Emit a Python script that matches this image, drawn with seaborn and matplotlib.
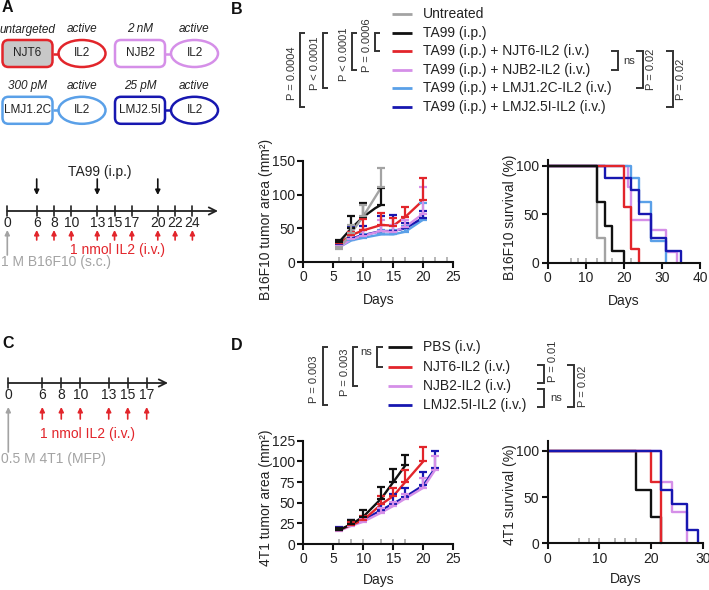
import numpy as np
import pandas as pd
import matplotlib
matplotlib.use("Agg")
import matplotlib.pyplot as plt
import seaborn as sns
from matplotlib.patches import FancyBboxPatch, Ellipse

# ---------------- data ----------------
# Panel A constructs
construct_names = ["NJT6", "NJB2", "LMJ1.2C", "LMJ2.5I"]
construct_affinity = ["untargeted", "2 nM", "300 pM", "25 pM"]
cytokine_state = ["active", "active", "active", "active"]

# Panel A / C treatment timelines (days)
timeline_A_days = [0, 6, 8, 10, 13, 15, 17, 20, 22, 24]
ta99_days = [6, 13, 20]
il2_days_A = [6, 8, 10, 13, 15, 17, 20, 22, 24]
timeline_C_days = [0, 6, 8, 10, 13, 15, 17]
il2_days_C = [6, 8, 10, 13, 15, 17]

# Panel B legend groups
b_groups = ["Untreated", "TA99 (i.p.)", "TA99 (i.p.) + NJT6-IL2 (i.v.)",
            "TA99 (i.p.) + NJB2-IL2 (i.v.)", "TA99 (i.p.) + LMJ1.2C-IL2 (i.v.)",
            "TA99 (i.p.) + LMJ2.5I-IL2 (i.v.)"]
# B16F10 tumor area (mm2), mean and upper SEM
b_days_untreated = [6, 8, 10, 13]
b_area_untreated = [20, 43, 68, 111]
b_err_untreated = [2, 12, 16, 29]
b_days_ta99 = [6, 8, 10, 12, 13]
b_area_ta99 = [30, 50, 67, 80, 85]
b_err_ta99 = [2, 18, 20, 0, 25]
b_days_il2 = [6, 8, 10, 13, 15, 17, 20]
b_area_njt6 = [28, 40, 47, 55, 54, 67, 92]
b_err_njt6 = [2, 5, 17, 18, 12, 15, 33]
b_area_njb2 = [22, 34, 39, 46, 45, 52, 72]
b_err_njb2 = [2, 10, 8, 16, 10, 10, 40]
b_area_lmj12c = [22, 32, 36, 41, 41, 45, 63]
b_err_lmj12c = [2, 4, 5, 6, 6, 8, 24]
b_area_lmj25i = [25, 35, 40, 46, 46, 50, 66]
b_err_lmj25i = [2, 19, 13, 22, 24, 8, 10]

# B16F10 survival (Kaplan-Meier steps)
b_surv_t_untreated = [0, 13, 15]
b_surv_s_untreated = [100, 25, 0]
b_surv_t_ta99 = [0, 13, 15, 17, 20]
b_surv_s_ta99 = [100, 62.5, 37.5, 12.5, 0]
b_surv_t_njt6 = [0, 20, 22, 24]
b_surv_s_njt6 = [100, 57.1, 14.3, 0]
b_surv_t_njb2 = [0, 21, 22, 27, 31, 34]
b_surv_s_njb2 = [100, 77.8, 44.4, 33.3, 11.1, 0]
b_surv_t_lmj12c = [0, 22, 24, 27, 31]
b_surv_s_lmj12c = [100, 87.5, 62.5, 22.2, 0]
b_surv_t_lmj25i = [0, 15, 22, 24, 27, 31, 35]
b_surv_s_lmj25i = [100, 87.5, 75, 50, 25, 12.5, 0]

# Panel D legend groups
d_groups = ["PBS (i.v.)", "NJT6-IL2 (i.v.)", "NJB2-IL2 (i.v.)", "LMJ2.5I-IL2 (i.v.)"]
# 4T1 tumor area (mm2)
d_days_pbs = [6, 8, 10, 13, 15, 17]
d_area_pbs = [17, 24, 33, 55, 75, 95]
d_err_pbs = [2, 5, 8, 14, 16, 13]
d_days_njt6 = [6, 8, 10, 13, 15, 17, 20]
d_area_njt6 = [17, 23, 29, 48, 58, 75, 100]
d_err_njt6 = [2, 4, 5, 10, 10, 14, 17]
d_days_late = [6, 8, 10, 13, 15, 17, 20, 22]
d_area_njb2 = [16, 22, 27, 38, 46, 55, 68, 90]
d_err_njb2 = [2, 3, 4, 5, 5, 5, 12, 16]
d_area_lmj25i = [17, 23, 29, 41, 49, 57, 71, 92]
d_err_lmj25i = [3, 6, 4, 8, 11, 11, 16, 20]

# 4T1 survival
d_surv_t_pbs = [0, 17, 20, 22]
d_surv_s_pbs = [100, 57.1, 28.6, 0]
d_surv_t_njt6 = [0, 20, 22]
d_surv_s_njt6 = [100, 66.7, 0]
d_surv_t_njb2 = [0, 22, 24, 27]
d_surv_s_njb2 = [100, 66.7, 33.3, 0]
d_surv_t_lmj25i = [0, 22, 24, 27, 29]
d_surv_s_lmj25i = [100, 57.1, 42.9, 14.3, 0]

# ---------------- style ----------------
GRAY = "#a3a3a3"
BLACK = "#111111"
RED = "#e2252b"
PINK = "#d58fe8"
LBLUE = "#5aa0e8"
DBLUE = "#1717b0"
TXT = "#222222"
BR = "#333333"

sns.set_theme(style="ticks")
plt.rcParams["font.family"] = ["Liberation Sans", "DejaVu Sans"]
plt.rcParams["axes.linewidth"] = 1.5
plt.rcParams["text.color"] = TXT

W, H = 709, 590
fig = plt.figure(figsize=(W / 100, H / 100), dpi=100)
fig.patch.set_facecolor("white")

ov = fig.add_axes([0, 0, 1, 1], facecolor="none")
ov.set_xlim(0, W)
ov.set_ylim(H, 0)
ov.axis("off")


def ax_px(left, top, width, height):
    return fig.add_axes([left / W, 1 - (top + height) / H, width / W, height / H], facecolor="none")


def panel_letter(x, y, s):
    ov.text(x, y, s, fontsize=11.5, fontweight="bold", ha="left", va="center", color="#111")


panel_letter(2, 8, "A")
panel_letter(231, 10, "B")
panel_letter(2, 344, "C")
panel_letter(231, 345, "D")

# ---------------- Panel A constructs ----------------
c_colors = [RED, PINK, LBLUE, DBLUE]
c_fill = ["#c8c8c8", "white", "white", "white"]
col_x0 = [2.5, 115]
row_cy = [53.5, 110.3]
bw, bh, gap, ew = 50, 27, 6, 47
for i, name in enumerate(construct_names):
    x0 = col_x0[i % 2]
    cy = row_cy[i // 2]
    col = c_colors[i]
    ov.add_patch(FancyBboxPatch((x0, cy - bh / 2), bw, bh,
                                boxstyle="round,pad=0,rounding_size=6",
                                fc=c_fill[i], ec=col, lw=1.8))
    ecx = x0 + bw + gap + ew / 2
    ov.add_patch(Ellipse((ecx, cy), ew, bh, fc="white", ec=col, lw=1.8))
    ov.plot([x0 + bw, x0 + bw + gap], [cy, cy], color=col, lw=1.8, solid_capstyle="butt")
    ov.text(x0 + bw / 2, cy, name, fontsize=8.5, ha="center", va="center", color=TXT)
    ov.text(ecx, cy, "IL2", fontsize=8.5, ha="center", va="center", color=TXT)
    ov.text(x0 + bw / 2, cy - 24, construct_affinity[i], fontsize=8.5, style="italic",
            ha="center", va="center", color=TXT)
    ov.text(ecx, cy - 24, cytokine_state[i], fontsize=8.5, style="italic",
            ha="center", va="center", color=TXT)


# ---------------- timelines ----------------
def draw_timeline(days, pos, y, x_end, il2_days, text_pos, inj_text, inj_y,
                  arr_tip, arr_tail, ta99=None):
    x_start = pos(days[0])
    ov.annotate("", xy=(x_end, y), xytext=(x_start, y),
                arrowprops=dict(arrowstyle="->", lw=1.3, color="#222", mutation_scale=13,
                                shrinkA=0, shrinkB=0))
    for d in days:
        ov.plot([pos(d), pos(d)], [y - 5, y + 5], color="#222", lw=1.2)
        ov.text(pos(d), y + 12, str(d), fontsize=10, ha="center", va="center", color=TXT)
    for d in il2_days:
        ov.annotate("", xy=(pos(d), y + arr_tip), xytext=(pos(d), y + arr_tail),
                    arrowprops=dict(arrowstyle="-|>", lw=1.2, color=RED, mutation_scale=7,
                                    shrinkA=0, shrinkB=0))
    ov.text(text_pos[0], text_pos[1], "1 nmol IL2 (i.v.)", fontsize=10, color=RED,
            ha="center", va="center")
    ov.annotate("", xy=(pos(0), y + arr_tip), xytext=(pos(0), inj_y - 7),
                arrowprops=dict(arrowstyle="-|>", lw=1.2, color=GRAY, mutation_scale=7,
                                shrinkA=0, shrinkB=0))
    ov.text(1, inj_y, inj_text, fontsize=10, color=GRAY, ha="left", va="center")
    if ta99 is not None:
        for d in ta99:
            ov.annotate("", xy=(pos(d), y - 16), xytext=(pos(d), y - 32),
                        arrowprops=dict(arrowstyle="-|>", lw=1.2, color="#111", mutation_scale=7,
                                        shrinkA=0, shrinkB=0))
        ov.text(100, y - 39, "TA99 (i.p.)", fontsize=10, ha="center", va="center", color=TXT)


def posA(d):
    return 7.3 if d == 0 else 36.7 + (d - 6) * 8.65


def posC(d):
    return 8.3 if d == 0 else 42.3 + (d - 6) * 9.49


draw_timeline(timeline_A_days, posA, 211, 218, il2_days_A, (118, 250),
              "1 M B16F10 (s.c.)", 262, 19, 29, ta99=ta99_days)
draw_timeline(timeline_C_days, posC, 383, 168, il2_days_C, (88, 434),
              "0.5 M 4T1 (MFP)", 459, 24, 36)


# ---------------- helpers for data panels ----------------
def style_axis(ax, xlim, ylim, xticks, yticks):
    ax.set_xlim(*xlim)
    ax.set_ylim(*ylim)
    ax.set_xticks(xticks)
    ax.set_yticks(yticks)
    sns.despine(ax=ax)
    for s in ["left", "bottom"]:
        ax.spines[s].set_linewidth(1.5)
        ax.spines[s].set_color("#111")
    ax.tick_params(width=1.5, length=4, labelsize=10, pad=2, color="#111", labelcolor=TXT)
    ax.grid(False)


def censor_marks(ax, days, h):
    ax.vlines(days, 0, h, colors=GRAY, lw=1.1, clip_on=False, zorder=1)


def tumor_df(day_lists, area_lists, err_lists, names):
    rows = []
    for ds, ar, er, nm in zip(day_lists, area_lists, err_lists, names):
        for d, a, e in zip(ds, ar, er):
            rows.append((nm, d, a, e))
    return pd.DataFrame(rows, columns=["group", "day", "area", "err"])


def surv_df(t_lists, s_lists, names):
    rows = []
    for ts, ss, nm in zip(t_lists, s_lists, names):
        for t, s in zip(ts, ss):
            rows.append((nm, t, s))
    return pd.DataFrame(rows, columns=["group", "day", "surv"])


def draw_tumor(ax, df, order, pal):
    sns.lineplot(data=df, x="day", y="area", hue="group", hue_order=order, palette=pal,
                 estimator=None, lw=1.7, legend=False, ax=ax, clip_on=False)
    for g in order:
        sub = df[(df.group == g) & (df.err > 0)]
        ax.errorbar(sub.day, sub.area, yerr=[np.zeros(len(sub)), sub.err], fmt="none",
                    ecolor=pal[g], elinewidth=1.6, capsize=3.2, capthick=1.6, clip_on=False)


def draw_surv(ax, df, order, pal):
    sns.lineplot(data=df, x="day", y="surv", hue="group", hue_order=order, palette=pal,
                 estimator=None, drawstyle="steps-post", lw=1.7, legend=False, ax=ax,
                 clip_on=False)


# ---------------- Panel B ----------------
b_pal = dict(zip(b_groups, [GRAY, BLACK, RED, PINK, LBLUE, DBLUE]))
b_tumor = tumor_df(
    [b_days_untreated, b_days_ta99, b_days_il2, b_days_il2, b_days_il2, b_days_il2],
    [b_area_untreated, b_area_ta99, b_area_njt6, b_area_njb2, b_area_lmj12c, b_area_lmj25i],
    [b_err_untreated, b_err_ta99, b_err_njt6, b_err_njb2, b_err_lmj12c, b_err_lmj25i],
    b_groups)
b_draw_order = [b_groups[i] for i in [4, 5, 3, 2, 1, 0]]

axB1 = ax_px(303.3, 161, 150, 101)
censor_marks(axB1, il2_days_A, 7)
draw_tumor(axB1, b_tumor, b_draw_order, b_pal)
style_axis(axB1, (0, 25), (0, 150), range(0, 26, 5), range(0, 151, 50))
axB1.set_xlabel("Days", fontsize=10, color=TXT)
axB1.set_ylabel("B16F10 tumor area (mm²)", fontsize=10, color=TXT)
axB1.xaxis.set_label_coords(0.5, -0.31)
axB1.yaxis.set_label_coords(-0.205, 0.42)

b_surv = surv_df(
    [b_surv_t_untreated, b_surv_t_ta99, b_surv_t_njt6, b_surv_t_njb2, b_surv_t_lmj12c, b_surv_t_lmj25i],
    [b_surv_s_untreated, b_surv_s_ta99, b_surv_s_njt6, b_surv_s_njb2, b_surv_s_lmj12c, b_surv_s_lmj25i],
    b_groups)
axB2 = ax_px(547.7, 159.8, 152.3, 102.9)
censor_marks(axB2, il2_days_A, 5)
draw_surv(axB2, b_surv, [b_groups[i] for i in [0, 3, 4, 5, 2, 1]], b_pal)
style_axis(axB2, (0, 40), (0, 106), range(0, 41, 10), [0, 50, 100])
axB2.set_xlabel("Days", fontsize=10, color=TXT)
axB2.set_ylabel("B16F10 survival (%)", fontsize=10, color=TXT)
axB2.xaxis.set_label_coords(0.5, -0.3)
axB2.yaxis.set_label_coords(-0.2, 0.44)

# Legend B
leg_y_B = [14 + 18.6 * i for i in range(len(b_groups))]
for g, yy in zip(b_groups, leg_y_B):
    ov.plot([391.7, 411.7], [yy, yy], color=b_pal[g], lw=2, solid_capstyle="butt")
    ov.text(423, yy, g, fontsize=10, ha="left", va="center", color=TXT)


def bracket(x, y0, y1, stub):
    ov.plot([x + stub, x, x, x + stub], [y0, y0, y1, y1], color=BR, lw=1.4,
            solid_joinstyle="miter", solid_capstyle="butt")


def vtext(x, y, s):
    ov.text(x, y, s, fontsize=8, rotation=90, ha="center", va="center", color=BR)


# left brackets B (TA99 vs others)
for x, r1, lab in [(375, 2, "P = 0.0006"), (352, 3, "P < 0.0001"),
                   (323, 4, "P < 0.0001"), (300, 5, "P = 0.0004")]:
    bracket(x, leg_y_B[1], leg_y_B[r1], 5)
    vtext(x - 8, (leg_y_B[1] + leg_y_B[r1]) / 2 + 3, lab)
# right brackets B
bracket(618, leg_y_B[2], leg_y_B[3], -7)
ov.text(623, (leg_y_B[2] + leg_y_B[3]) / 2, "ns", fontsize=8, ha="left", va="center", color=BR)
bracket(643, leg_y_B[2], leg_y_B[4], -7)
vtext(651.5, (leg_y_B[2] + leg_y_B[4]) / 2, "P = 0.02")
bracket(673, leg_y_B[2], leg_y_B[5], -7)
vtext(680.5, (leg_y_B[2] + leg_y_B[5]) / 2, "P = 0.02")

# ---------------- Panel D ----------------
d_pal = dict(zip(d_groups, [BLACK, RED, PINK, DBLUE]))
d_tumor = tumor_df(
    [d_days_pbs, d_days_njt6, d_days_late, d_days_late],
    [d_area_pbs, d_area_njt6, d_area_njb2, d_area_lmj25i],
    [d_err_pbs, d_err_njt6, d_err_njb2, d_err_lmj25i],
    d_groups)
axD1 = ax_px(303.3, 440.7, 150, 103.3)
censor_marks(axD1, il2_days_C, 6)
draw_tumor(axD1, d_tumor, [d_groups[i] for i in [3, 2, 1, 0]], d_pal)
style_axis(axD1, (0, 25), (0, 125), range(0, 26, 5), range(0, 126, 25))
axD1.set_xlabel("Days", fontsize=10, color=TXT)
axD1.set_ylabel("4T1 tumor area (mm²)", fontsize=10, color=TXT)
axD1.xaxis.set_label_coords(0.5, -0.28)
axD1.yaxis.set_label_coords(-0.205, 0.45)

d_surv = surv_df(
    [d_surv_t_pbs, d_surv_t_njt6, d_surv_t_njb2, d_surv_t_lmj25i],
    [d_surv_s_pbs, d_surv_s_njt6, d_surv_s_njb2, d_surv_s_lmj25i],
    d_groups)
axD2 = ax_px(547.7, 440.7, 155, 102.6)
censor_marks(axD2, il2_days_C, 5.4)
draw_surv(axD2, d_surv, [d_groups[i] for i in [0, 2, 1, 3]], d_pal)
style_axis(axD2, (0, 30), (0, 110.8), range(0, 31, 10), [0, 50, 100])
axD2.set_xlabel("Days", fontsize=10, color=TXT)
axD2.set_ylabel("4T1 survival (%)", fontsize=10, color=TXT)
axD2.xaxis.set_label_coords(0.5, -0.28)
axD2.yaxis.set_label_coords(-0.2, 0.47)

# Legend D
leg_y_D = [347.3 + 19.2 * i for i in range(len(d_groups))]
for g, yy in zip(d_groups, leg_y_D):
    ov.plot([388, 412], [yy, yy], color=d_pal[g], lw=2, solid_capstyle="butt")
    ov.text(423, yy, g, fontsize=10, ha="left", va="center", color=TXT)

# left brackets D (PBS vs others)
bracket(377, leg_y_D[0], leg_y_D[1], 6)
ov.text(372, leg_y_D[0] + 5, "ns", fontsize=8, ha="right", va="center", color=BR)
bracket(353, leg_y_D[0], leg_y_D[2], 5)
vtext(345, (leg_y_D[0] + leg_y_D[2]) / 2 + 6, "P = 0.003")
bracket(323, leg_y_D[0], leg_y_D[3], 5)
vtext(314, (leg_y_D[0] + leg_y_D[3]) / 2 + 3, "P = 0.003")
# right brackets D
bracket(544, leg_y_D[1] - 1.5, leg_y_D[2] - 2.5, -7)
vtext(553, leg_y_D[1] - 5, "P = 0.01")
bracket(544, leg_y_D[2] + 3.5, leg_y_D[3] + 2, -7)
ov.text(550, (leg_y_D[2] + leg_y_D[3]) / 2 + 3, "ns", fontsize=8, ha="left", va="center", color=BR)
bracket(574, leg_y_D[1] - 1.5, leg_y_D[3] + 2, -7)
vtext(583, (leg_y_D[1] + leg_y_D[3]) / 2 + 1, "P = 0.02")

fig.savefig("out.png", dpi=100, facecolor="white")
